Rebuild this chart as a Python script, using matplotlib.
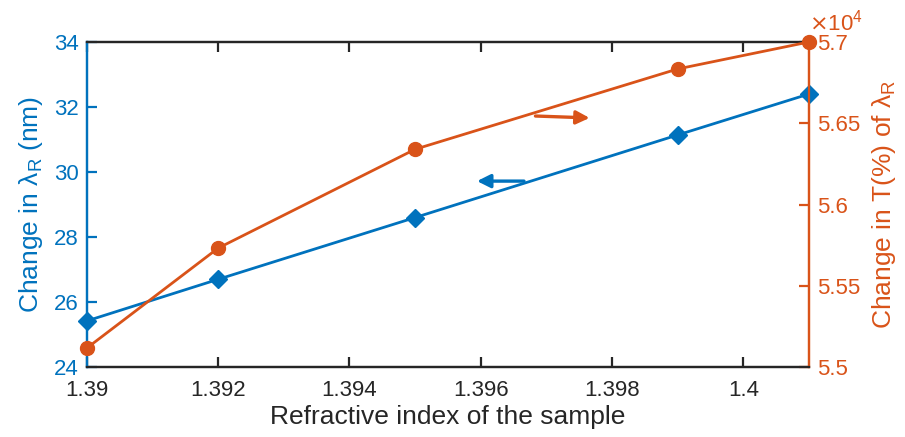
import numpy as np
import matplotlib
matplotlib.use('Agg')
import matplotlib.pyplot as plt
from matplotlib.ticker import FuncFormatter

plt.rcParams['font.family'] = ['Liberation Sans', 'DejaVu Sans']

# refractive index of sample
n_sample = [1.390, 1.392, 1.395, 1.399, 1.401]
# shift of resonance wavelength (nm)
d_lambda = [25.42, 26.70, 28.60, 31.14, 32.40]
# change in transmission at resonance
d_trans = [55117, 55732, 56340, 56834, 57000]

blue = '#0072BD'
orange = '#D95319'
dark = '#262626'

fig = plt.figure(figsize=(9.05, 4.37), dpi=100)
fig.subplots_adjust(left=0.096, right=0.894, top=0.904, bottom=0.160)
ax = fig.add_subplot(111)
ax2 = ax.twinx()

ax.plot(n_sample, d_lambda, '-', color=blue, lw=2.0, marker='D', ms=9,
        zorder=3, clip_on=False)
ax2.plot(n_sample, d_trans, '-', color=orange, lw=2.0, marker='o', ms=10,
         zorder=3, clip_on=False)

ax.set_xlim(1.39, 1.401)
ax.set_ylim(24, 34)
ax2.set_ylim(55000, 57000)

ax.set_xticks([1.39, 1.392, 1.394, 1.396, 1.398, 1.4])
ax.set_xticklabels(['1.39', '1.392', '1.394', '1.396', '1.398', '1.4'])
ax.set_yticks([24, 26, 28, 30, 32, 34])
ax2.set_yticks([55000, 55500, 56000, 56500, 57000])
ax2.yaxis.set_major_formatter(FuncFormatter(lambda v, p: f'{v / 1e4:g}'))
ax2.text(1.0, 1.02, r'$\times\mathregular{10^4}$', transform=ax2.transAxes,
         color=orange, fontsize=16, ha='left', va='bottom')

# spines coloured like MATLAB yyaxis
for a in (ax, ax2):
    a.spines['top'].set_color(dark)
    a.spines['bottom'].set_color(dark)
    a.spines['left'].set_color(blue)
    a.spines['right'].set_color(orange)
    for s in a.spines.values():
        s.set_linewidth(1.6)

ax.tick_params(axis='x', direction='in', top=True, colors=dark, labelsize=16,
               length=7, width=1.6, pad=9)
ax.tick_params(axis='y', direction='in', colors=blue, labelsize=16,
               length=7, width=1.6, pad=6)
ax2.tick_params(axis='y', direction='in', colors=orange, labelsize=16,
                length=7, width=1.6, pad=6)

ax.set_xlabel('Refractive index of the sample', fontsize=19, color=dark,
              labelpad=3)
ax.set_ylabel(r'Change in $\mathregular{\lambda_R}$ (nm)', fontsize=19,
              color=blue, labelpad=6)
ax2.set_ylabel(r'Change in T(%) of $\mathregular{\lambda_R}$', fontsize=19,
               color=orange, labelpad=7)

# arrows pointing to each curve's axis
ax.annotate('', xy=(1.3959, 29.72), xytext=(1.3967, 29.72),
            arrowprops=dict(arrowstyle='-|>', color=blue, lw=2.4,
                            mutation_scale=20))
ax2.annotate('', xy=(1.3977, 56532), xytext=(1.39679, 56545),
             arrowprops=dict(arrowstyle='-|>', color=orange, lw=2.4,
                             mutation_scale=20))

fig.savefig('out.png', dpi=100)
